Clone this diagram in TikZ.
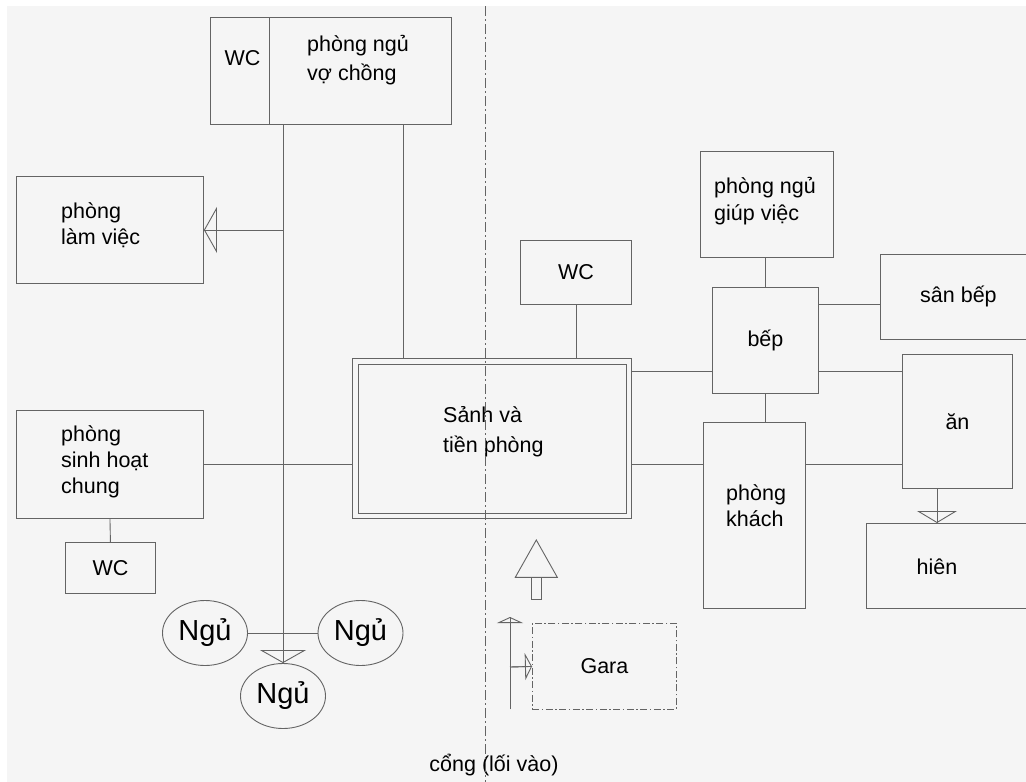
\documentclass[tikz,border=0pt]{standalone}
\usepackage{fontspec}
\setmainfont{Liberation Sans}
\usetikzlibrary{positioning,shapes.geometric,arrows.meta}
\definecolor{wire}{RGB}{100,100,100}
\definecolor{paper}{RGB}{245,245,245}
\tikzstyle{R} = [rectangle,
			draw=wire, line width=0.9pt,
			inner sep=0pt, anchor=north west]
\tikzstyle{T} = [inner sep=0pt, align=left, anchor=west]
\tikzstyle{E} = [ellipse,
			draw=wire, line width=0.9pt, inner sep=0pt,
			minimum width=85pt, minimum height=65pt,
			font=\fontsize{29}{32}\selectfont]
\tikzstyle{L} = [draw=wire, line width=0.9pt]
\tikzstyle{A} = [L, -{Triangle[open, length=13pt, width=46pt]}]
\tikzstyle{D} = [draw=wire, line width=0.9pt,
			dash pattern=on 10pt off 3pt on 2pt off 3pt]

\begin{document}
\begin{tikzpicture}[x=1pt, y=-1pt, font=\fontsize{21.5}{26}\selectfont]

\path [use as bounding box] (0,0) rectangle (1026,782);
\clip (0,0) rectangle (1026,782);
\fill [paper] (7,6) rectangle (1026,782);

% rooms, left half
\node [R, minimum width=59pt, minimum height=107pt] at (210,17)
(mwc)
	{};

\node [R, minimum width=182pt, minimum height=107pt] at (269,17)
(master)
	{};

\node [R, minimum width=187pt, minimum height=107pt] at (16,176)
(lam)
	{};

\node [R, minimum width=187pt, minimum height=108pt] at (16,410)
(sinh)
	{};

\node [R, minimum width=90pt, minimum height=51pt] at (65,542)
(wc1)
	{WC};

\node [E] at (205,633)
(ngu1)
	{Ngủ};

\node [E] at (360.5,633)
(ngu2)
	{Ngủ};

\node [E] at (283,696)
(ngu3)
	{Ngủ};

% hall
\node [R, minimum width=279pt, minimum height=160pt] at (352,358)
(sanh)
	{};

\node [R, anchor=center, minimum width=268pt, minimum height=149pt] at (sanh.center)
(sanhin)
	{};

% rooms, right half
\node [R, minimum width=111pt, minimum height=64pt] at (520,240)
(wc2)
	{WC};

\node [R, minimum width=133pt, minimum height=106pt] at (700,151)
(giup)
	{};

\node [R, minimum width=106pt, minimum height=106pt] at (712,287)
(bep)
	{bếp};

\node [R, minimum width=156pt, minimum height=85pt] at (880,254)
(san)
	{sân bếp};

\node [R, minimum width=110pt, minimum height=134pt] at (902,354)
(an)
	{ăn};

\node [R, minimum width=102pt, minimum height=186pt] at (703,422)
(khach)
	{};

\node [R, minimum width=170pt, minimum height=85pt] at (866,523)
(hien)
	{};

\node [R, D, dash pattern=on 7pt off 2.5pt on 1.5pt off 2.5pt,
	minimum width=144pt, minimum height=86pt] at (532,623)
(gara)
	{Gara};

% texts
\node [T, anchor=center] at (242.5,58)
(tmwc)
	{WC};

\node [T, font=\fontsize{21.5}{29}\selectfont] at (307,60)
(tmaster)
	{phòng ngủ\\vợ chồng};

\node [T] at (61,225)
(tlam)
	{phòng\\làm việc};

\node [T] at (61,462)
(tsinh)
	{phòng\\sinh hoạt\\chung};

\node [T, font=\fontsize{21.5}{30}\selectfont] at (443,432)
(tsanh)
	{Sảnh và\\tiền phòng};

\node [T, font=\fontsize{21.5}{27}\selectfont] at (714,201.5)
(tgiup)
	{phòng ngủ\\giúp việc};

\node [T] at (726,506)
(tkhach)
	{phòng\\khách};

\node [T, anchor=center] at (937,567)
(thien)
	{hiên};

\node [T, anchor=center] at (494,765)
(tgate)
	{cổng (lối vào)};

\coordinate (spine) at (283,0);
\coordinate (loft) at (403,0);
\coordinate (kitchenrow) at (0,371);
\coordinate (yardrow) at (0,304);
\coordinate (livingrow) at (0,464);
\coordinate (porch) at (937,0);
\coordinate (driveS) at (510,709);
\coordinate (driveN) at (510,617);
\coordinate (garain) at (510,667);
\coordinate (axisN) at (485,6);
\coordinate (axisS) at (485,782);

% links
\path[L] (master.south -| spine) -- (spine |- ngu3.north);
\path[A] (master.south -| spine) -- (spine |- ngu3.north);

\path[L] (spine |- lam.east) -- (lam.east);
\path[A] (spine |- lam.east) -- (lam.east);

\path[L] (master.south -| loft) -- (sanh.north -| loft);

\path[L] (sinh.east) -- (sinh.east -| sanh.west);

\path[L] (sinh.south) -- (wc1.north);

\path[L] (ngu1.east) -- (ngu2.west);

\path[L] (wc2.south) -- (wc2.south |- sanh.north);

\path[L] (sanh.east |- kitchenrow) -- (bep.west |- kitchenrow);

\path[L] (bep.east |- kitchenrow) -- (an.west |- kitchenrow);

\path[L] (bep.east |- yardrow) -- (san.west |- yardrow);

\path[L] (bep.north |- giup.south) -- (bep.north);

\path[L] (bep.south) -- (bep.south |- khach.north);

\path[L] (sanh.east |- livingrow) -- (khach.west |- livingrow);

\path[L] (khach.east |- livingrow) -- (an.west |- livingrow);

\path[L] (an.south -| porch) -- (hien.north -| porch);
\path[L, -{Triangle[open, length=12pt, width=40pt]}] (an.south -| porch) -- (hien.north -| porch);

\path[L] (driveS) -- (driveN);
\path[L, -{Triangle[open, length=6pt, width=26pt]}] (driveS) -- (driveN);

\path[L] (garain) -- (gara.west);
\path[L, -{Triangle[open, length=7pt, width=27pt]}] (garain) -- (gara.west);

% entrance sign
\path[L] (515.3,577.3) -- (536.3,540) -- (557.3,577.3) -- cycle;
\path[L] (531,577.3) rectangle (541.7,599.3);

% axis through the gate
\path[D] (axisN) -- (axisS);

\end{tikzpicture}
\end{document}
